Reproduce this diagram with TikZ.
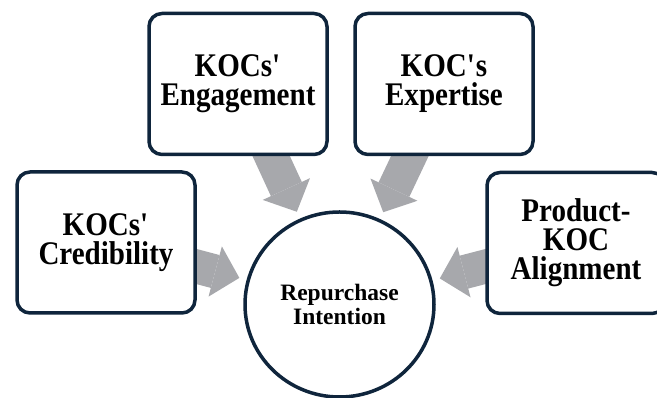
\documentclass[tikz,border=0pt]{standalone}
\usepackage{fontspec}
\setmainfont{Liberation Serif}
\newfontfamily\boxfont[FakeStretch=0.88]{Liberation Serif}
\usetikzlibrary{arrows.meta,backgrounds,shapes.geometric}
\definecolor{navy}{RGB}{15,37,60}
\definecolor{arrowgrey}{RGB}{167,168,172}
\def\boxw{178pt}
\def\boxh{141pt}
\tikzset{
  factor/.style={draw=navy, line width=3.5pt, rounded corners=13pt, fill=white,
    minimum width=\boxw, minimum height=\boxh, align=center,
    font=\boxfont\bfseries\fontsize{33}{29}\selectfont},
  outcome/.style={ellipse, draw=navy, line width=3.5pt, fill=white,
    minimum width=189pt, minimum height=185pt, align=center,
    font=\bfseries\fontsize{23.5}{24}\selectfont},
  push/.style={arrowgrey, line width=34pt, shorten >=7.5pt,
    -{Triangle[length=25pt, width=52pt, line width=0pt]}}
}

\begin{document}
\begin{tikzpicture}[x=1pt, y=1pt]
    \useasboundingbox (0,0) rectangle (657,398);

    % Four factor boxes round the outcome.
    \node[factor] (eng) at (238, 314) {KOCs\textquotesingle\\Engagement};
    \node[factor] (exp) at (444, 314) {KOC\textquotesingle s\\Expertise};
    \node[factor] (cred) at (106, 155.5) {KOCs\textquotesingle\\Credibility};
    \node[factor] (align) at (576, 155) {Product-\\KOC\\Alignment};
    % Outcome in the middle.
    \node[outcome] (ri) at (339.5, 93.5) {Repurchase\\Intention};

    % Block arrows, tucked under the boxes.
    \begin{scope}[on background layer]
        \draw[push] (cred.center) -- (ri);
        \draw[push] (eng.center) -- (ri);
        \draw[push] (exp.center) -- (ri);
        \draw[push] (align.center) -- (ri);
    \end{scope}
\end{tikzpicture}
\end{document}
